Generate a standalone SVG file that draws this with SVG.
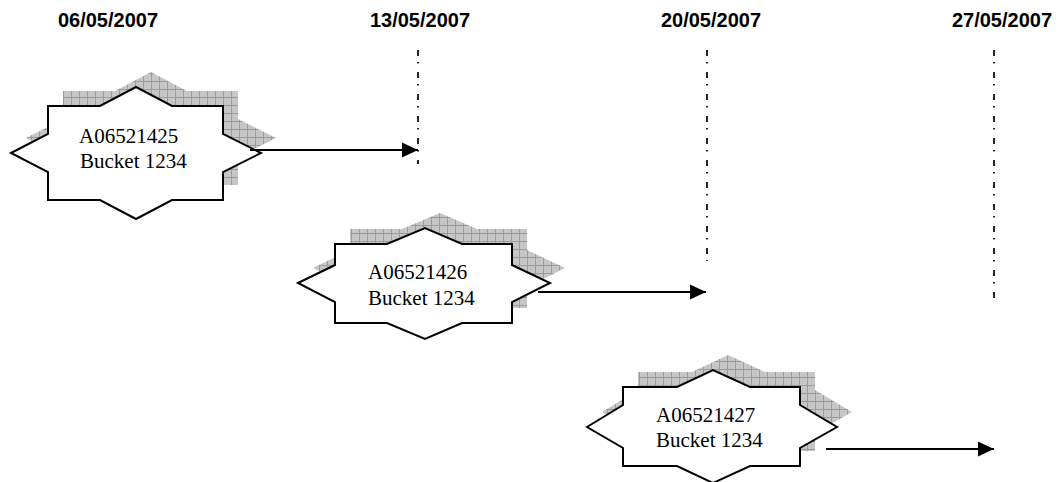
<svg xmlns="http://www.w3.org/2000/svg" width="1058" height="482" viewBox="0 0 1058 482">
<style>
.date{font-family:"Liberation Sans",Arial,sans-serif;font-weight:bold;font-size:20px;fill:#000;text-anchor:middle}
.lbl{font-family:"Liberation Serif","Times New Roman",serif;font-size:21px;fill:#000}
.star{fill:#fff;stroke:#000;stroke-width:2;stroke-linejoin:miter}
.shadow{fill:url(#grid);stroke:none}
.axis{stroke:#000;stroke-width:1.7;fill:none;stroke-dasharray:6 6 1.5 8.5}
.arrow{stroke:#000;stroke-width:2;fill:none;marker-end:url(#ah)}
</style>
<defs>
<pattern id="grid" width="8" height="8" patternUnits="userSpaceOnUse">
<rect width="8" height="8" fill="#c6c6c6"/>
<path d="M0 0.5H8M0.5 0V8" stroke="#9c9c9c" stroke-width="1"/>
</pattern>
<marker id="ah" markerUnits="userSpaceOnUse" markerWidth="16" markerHeight="16" refX="16" refY="8" orient="auto">
<path d="M0 0.5L16 8L0 15.5Z" fill="#000"/>
</marker>
</defs>
<g id="dates">
<text class="date" x="108" y="27">06/05/2007</text>
<text class="date" x="420" y="27">13/05/2007</text>
<text class="date" x="711" y="27">20/05/2007</text>
<text class="date" x="1002" y="27">27/05/2007</text>
</g>
<g id="timelines">
<line class="axis" x1="418" y1="50" x2="418" y2="164"/>
<line class="axis" x1="707" y1="50" x2="707" y2="261"/>
<line class="axis" x1="994" y1="50" x2="994" y2="304"/>
</g>
<g id="node1">
<polygon class="shadow" transform="translate(15,-15)" points="11,153 48,134 48,106 100,106 136,87 172,106 223,106 223,134 261,153 223,172 223,200 172,200 136,219 100,200 48,200 48,172"/>
<polygon class="star" points="11,153 48,134 48,106 100,106 136,87 172,106 223,106 223,134 261,153 223,172 223,200 172,200 136,219 100,200 48,200 48,172"/>
<text class="lbl" x="79" y="143">A06521425</text>
<text class="lbl" x="80" y="168">Bucket 1234</text>
</g>
<g id="node2">
<polygon class="shadow" transform="translate(15,-15)" points="298,283 335,265 335,244 387,244 425,228 462,244 512,244 512,265 550,283 512,302 512,323 462,323 425,339 387,323 335,323 335,302"/>
<polygon class="star" points="298,283 335,265 335,244 387,244 425,228 462,244 512,244 512,265 550,283 512,302 512,323 462,323 425,339 387,323 335,323 335,302"/>
<text class="lbl" x="368" y="279">A06521426</text>
<text class="lbl" x="368" y="305">Bucket 1234</text>
</g>
<g id="node3">
<polygon class="shadow" transform="translate(15,-15)" points="587,427 623,405 623,387 677,387 713,370 750,387 800,387 800,405 837,427 800,448 800,466 750,466 713,483 677,466 623,466 623,448"/>
<polygon class="star" points="587,427 623,405 623,387 677,387 713,370 750,387 800,387 800,405 837,427 800,448 800,466 750,466 713,483 677,466 623,466 623,448"/>
<text class="lbl" x="656" y="422">A06521427</text>
<text class="lbl" x="656" y="447">Bucket 1234</text>
</g>
<g id="connectors">
<line class="arrow" x1="250" y1="150" x2="418" y2="150"/>
<line class="arrow" x1="538" y1="292" x2="706" y2="292"/>
<line class="arrow" x1="826" y1="449" x2="994" y2="449"/>
</g>
</svg>
